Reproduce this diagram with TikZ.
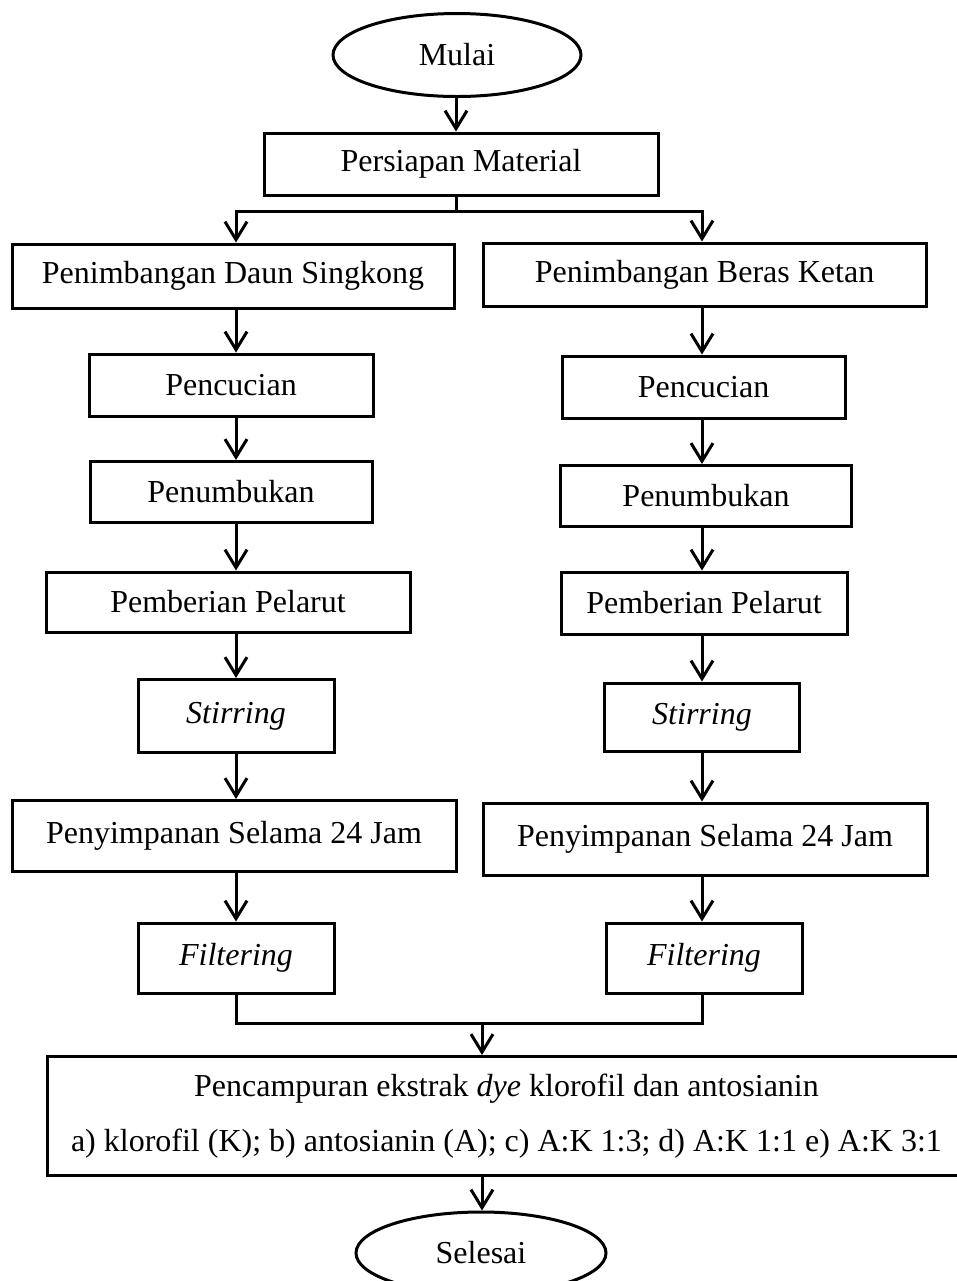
\documentclass[tikz,border=0pt]{standalone}
\usepackage{fontspec}
\setmainfont{Liberation Serif}
\usetikzlibrary{arrows.meta,shapes.geometric}

\begin{document}
\begin{tikzpicture}[
  x=0.5pt, y=-0.5pt,
  font=\fontsize{16}{19.2}\selectfont,
  every node/.style={align=center},
  term/.style ={ellipse, draw=black, line width=1.5pt, inner sep=0pt},
  proc/.style ={rectangle, draw=black, line width=1.5pt, inner sep=2pt},
  arrow/.style={-{Straight Barb[length=9pt,width=11pt]}, line width=1.5pt},
  line/.style ={line width=1.5pt},
]
\useasboundingbox (0,0) rectangle (957,1281);

% -------- start -----------------------------------------------------------
\node[term, minimum width=124pt, minimum height=41.5pt] (start) at (457,55) {Mulai};
\node[proc, minimum width=197pt, minimum height=31pt] (mat) at (461,164) {Persiapan Material};

% -------- left column (daun singkong) --------------------------------------
\node[proc, minimum width=221pt, minimum height=32pt]   (ls1) at (233,276) {Penimbangan Daun Singkong};
\node[proc, minimum width=142pt, minimum height=31pt]   (ls2) at (231,385) {Pencucian};
\node[proc, minimum width=141pt, minimum height=30.5pt] (ls3) at (231,492) {Penumbukan};
\node[proc, minimum width=182pt, minimum height=30pt]   (ls4) at (228,602) {Pemberian Pelarut};
\node[proc, minimum width=98pt,  minimum height=36.5pt] (ls5) at (236,716) {\textit{Stirring}};
\node[proc, minimum width=222pt, minimum height=35.5pt] (ls6) at (234,836) {Penyimpanan Selama 24 Jam};
\node[proc, minimum width=98pt,  minimum height=35pt]   (ls7) at (236,958) {\textit{Filtering}};

% -------- right column (beras ketan) ---------------------------------------
\node[proc, minimum width=221.5pt, minimum height=31.5pt] (rs1) at (704.5,274.5) {Penimbangan Beras Ketan};
\node[proc, minimum width=141.5pt, minimum height=31pt]   (rs2) at (703.5,387) {Pencucian};
\node[proc, minimum width=145.5pt, minimum height=30.5pt] (rs3) at (706,496) {Penumbukan};
\node[proc, minimum width=143pt,   minimum height=31pt]   (rs4) at (704,603) {Pemberian Pelarut};
\node[proc, minimum width=97.5pt,  minimum height=34pt]   (rs5) at (702,717) {\textit{Stirring}};
\node[proc, minimum width=222pt,   minimum height=36pt]   (rs6) at (705,839) {Penyimpanan Selama 24 Jam};
\node[proc, minimum width=98pt,    minimum height=35pt]   (rs7) at (704,958) {\textit{Filtering}};

% -------- mixing & end ------------------------------------------------------
\node[proc, minimum width=459.5pt, minimum height=59.5pt] (mix) at (506.5,1116)
  {Pencampuran ekstrak \textit{dye} klorofil dan antosianin\\[8.3pt]
   a) klorofil (K); b) antosianin (A); c) A:K 1:3; d) A:K 1:1 e) A:K 3:1};
\node[term, minimum width=125pt, minimum height=41pt] (stop) at (481,1253) {Selesai};

% -------- helper coordinates ---------------------------------------------
\coordinate (lcol)  at (236,0);
\coordinate (rcol)  at (702,0);
\coordinate (split) at (456,211);
\coordinate (join)  at (482,1023);

% -------- arrows ----------------------------------------------------------
\draw[arrow] (start.south -| split) -- (mat.north -| split);
\draw[line]  (mat.south -| split) -- (split);
\draw[arrow] (split) -| (ls1.north -| lcol);
\draw[arrow] (split) -| (rs1.north -| rcol);

\foreach \a/\b in {ls1/ls2, ls2/ls3, ls3/ls4, ls4/ls5, ls5/ls6, ls6/ls7}
  \draw[arrow] (\a.south -| lcol) -- (\b.north -| lcol);
\foreach \a/\b in {rs1/rs2, rs2/rs3, rs3/rs4, rs4/rs5, rs5/rs6, rs6/rs7}
  \draw[arrow] (\a.south -| rcol) -- (\b.north -| rcol);

% merge
\draw[line]  (ls7.south -| lcol) |- (join) -| (rs7.south -| rcol);
\draw[arrow] (join) -- (mix.north -| join);
\draw[arrow] (mix.south -| join) -- (stop.north -| join);

\end{tikzpicture}
\end{document}
